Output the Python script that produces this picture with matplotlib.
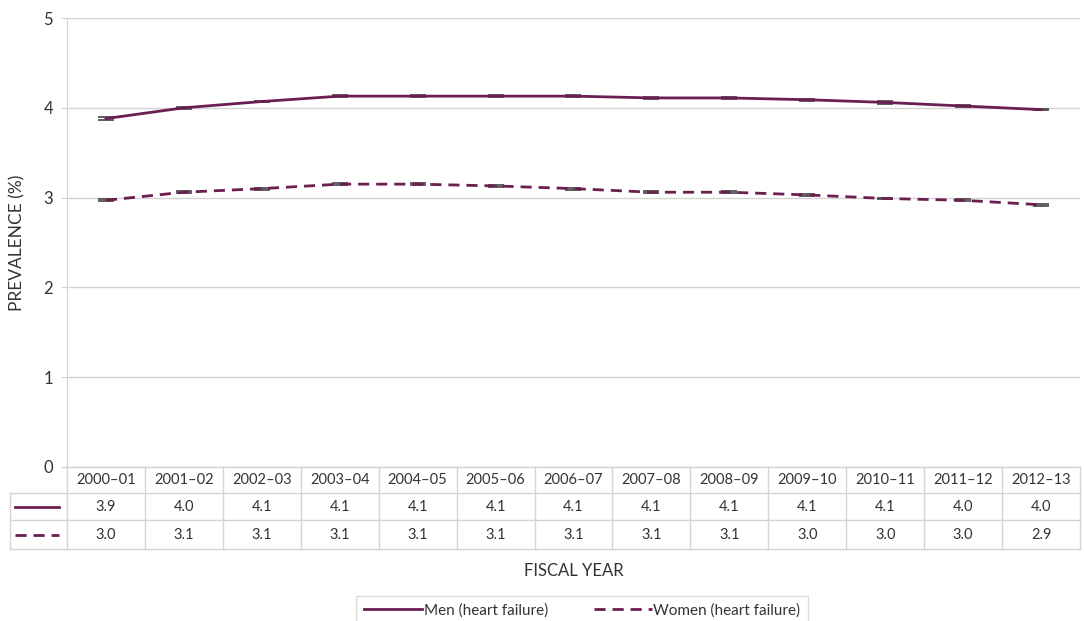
import numpy as np
import matplotlib.pyplot as plt
import matplotlib.transforms as mtrans
from matplotlib.lines import Line2D

plt.rcParams['font.family'] = ['Lato', 'DejaVu Sans']

years = ['2000–01', '2001–02', '2002–03', '2003–04', '2004–05', '2005–06', '2006–07',
         '2007–08', '2008–09', '2009–10', '2010–11', '2011–12', '2012–13']
men = [3.88, 4.00, 4.07, 4.13, 4.13, 4.13, 4.13, 4.11, 4.11, 4.09, 4.06, 4.02, 3.98]
women = [2.97, 3.06, 3.10, 3.15, 3.15, 3.13, 3.10, 3.06, 3.06, 3.03, 2.99, 2.97, 2.92]
men_err = [0.02, 0.01, 0.01, 0.01, 0.01, 0.01, 0.01, 0.015, 0.01, 0.01, 0.015, 0.015, 0.01]
women_err = [0.01, 0.01, 0.01, 0.01, 0.01, 0.01, 0.01, 0.01, 0.01, 0.01, 0.01, 0.01, 0.01]
men_lbl = ['3.9', '4.0', '4.1', '4.1', '4.1', '4.1', '4.1', '4.1', '4.1', '4.1', '4.1', '4.0', '4.0']
women_lbl = ['3.0', '3.1', '3.1', '3.1', '3.1', '3.1', '3.1', '3.1', '3.1', '3.0', '3.0', '3.0', '2.9']

col = '#6b1e50'
grid = '#d4d4d4'
txt = '#333333'
dash = (0, (4, 2.5))

fig = plt.figure(figsize=(10.84, 6.21), dpi=100)
ax = fig.add_axes([0.0618, 0.248, 0.9345, 0.723])

x = np.arange(len(years))
ax.errorbar(x, men, yerr=men_err, color=col, lw=2, ecolor='#444444', elinewidth=0.8,
            capsize=6, capthick=1.2, zorder=3)
ax.errorbar(x, women, yerr=women_err, color=col, lw=2, ls=dash, ecolor='#444444',
            elinewidth=0.8, capsize=6, capthick=1.2, zorder=3)

ax.set_xlim(-0.5, len(years) - 0.5)
ax.set_ylim(0, 5)
ax.set_yticks([0, 1, 2, 3, 4, 5])
ax.yaxis.grid(True, color=grid, lw=1)
ax.set_axisbelow(True)
ax.set_xticks([])
for s in ['top', 'right', 'bottom']:
    ax.spines[s].set_visible(False)
ax.spines['left'].set_color(grid)
ax.tick_params(axis='y', length=4, color=grid, labelsize=12, labelcolor=txt, pad=6)
ax.set_ylabel('PREVALENCE (%)', fontsize=12.5, color=txt, labelpad=13)

# data table under the plot
tr = mtrans.blended_transform_factory(ax.transData, ax.transAxes)
rows = [0, -0.058, -0.118, -0.183]
left = -1.23
right = len(years) - 0.5
kw = dict(color=grid, lw=1, transform=tr, clip_on=False)
ax.plot([-0.55, right], [rows[0]] * 2, **kw)
for r in rows[1:]:
    ax.plot([left, right], [r, r], **kw)
ax.plot([left, left], [rows[1], rows[3]], **kw)
for i in range(len(years) + 1):
    ax.plot([i - 0.5, i - 0.5], [rows[0], rows[3]], **kw)
for i, yr in enumerate(years):
    ax.text(i, (rows[0] + rows[1]) / 2, yr, transform=tr, ha='center', va='center',
            fontsize=10.5, color=txt)
    ax.text(i, (rows[1] + rows[2]) / 2, men_lbl[i], transform=tr, ha='center', va='center',
            fontsize=10.5, color=txt)
    ax.text(i, (rows[2] + rows[3]) / 2, women_lbl[i], transform=tr, ha='center', va='center',
            fontsize=10.5, color=txt)
ax.plot([-1.17, -0.6], [(rows[1] + rows[2]) / 2] * 2, color=col, lw=2, transform=tr, clip_on=False)
ax.plot([-1.17, -0.6], [(rows[2] + rows[3]) / 2] * 2, color=col, lw=2, ls=dash,
        transform=tr, clip_on=False)

fig.text(0.529, 0.0805, 'FISCAL YEAR', ha='center', va='center', fontsize=12, color=txt)

handles = [Line2D([], [], color=col, lw=2),
           Line2D([], [], color=col, lw=2, ls=dash)]
leg = fig.legend(handles, ['Men (heart failure)', 'Women (heart failure)'], loc='upper center',
                 bbox_to_anchor=(0.537, 0.0531), ncol=2, frameon=True, fancybox=False,
                 fontsize=11, handlelength=3.8, handletextpad=0.1, columnspacing=3.0,
                 borderpad=0.5)
leg.get_frame().set_edgecolor(grid)
for t in leg.get_texts():
    t.set_color(txt)

fig.savefig('out.png', dpi=100)
